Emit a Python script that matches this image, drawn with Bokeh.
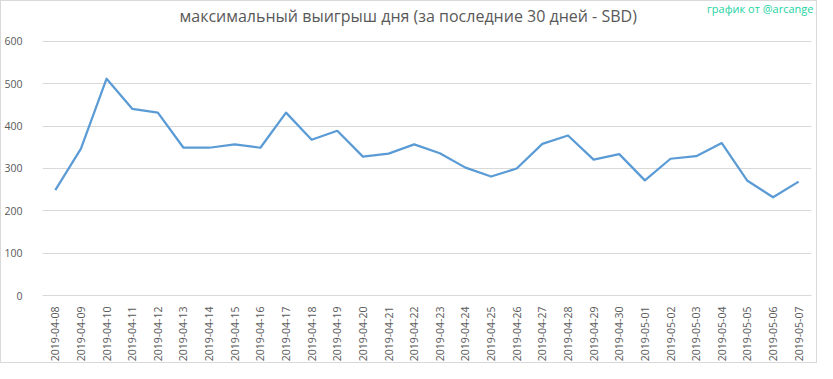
from bokeh.plotting import figure
from bokeh.models import FactorRange, Range1d, Title, FixedTicker
from bokeh.embed import file_html
from bokeh.resources import INLINE

dates = ["2019-04-08", "2019-04-09", "2019-04-10", "2019-04-11", "2019-04-12",
         "2019-04-13", "2019-04-14", "2019-04-15", "2019-04-16", "2019-04-17",
         "2019-04-18", "2019-04-19", "2019-04-20", "2019-04-21", "2019-04-22",
         "2019-04-23", "2019-04-24", "2019-04-25", "2019-04-26", "2019-04-27",
         "2019-04-28", "2019-04-29", "2019-04-30", "2019-05-01", "2019-05-02",
         "2019-05-03", "2019-05-04", "2019-05-05", "2019-05-06", "2019-05-07"]
values = [249, 347, 512, 441, 432, 349, 349, 357, 349, 432,
          368, 389, 328, 335, 357, 336, 302, 281, 300, 358,
          378, 321, 334, 272, 323, 329, 360, 271, 232, 269]
y_ticks = [0, 100, 200, 300, 400, 500, 600]

title_text = "максимальный выигрыш дня (за последние 30 дней - SBD)"
credit_text = "график от @arcange"

# the frame extends a little above the top gridline (600) so that the
# titles can sit close to the canvas top, as in the reference
p = figure(width=817, height=363, x_range=FactorRange(*dates, range_padding=0),
           y_range=Range1d(0, 659), output_backend="svg", toolbar_location=None,
           min_border_left=31, min_border_right=7, min_border_top=0, min_border_bottom=65,
           styles={"border": "1px solid #d9d9d9"})
p.title = None

p.outline_line_color = None
p.background_fill_color = "white"
p.border_fill_color = "white"

p.line(x=dates, y=values, line_color="#5b9bd5", line_width=2.25, line_join="round")

p.yaxis.ticker = FixedTicker(ticks=y_ticks)
p.ygrid.grid_line_color = "#d9d9d9"
p.ygrid.grid_line_width = 1
p.xgrid.grid_line_color = None
for ax in (p.xaxis, p.yaxis):
    ax.axis_line_color = None
    ax.major_tick_line_color = None
    ax.minor_tick_line_color = None
    ax.major_label_text_font = "Open Sans"
    ax.major_label_text_font_size = "10.5px"
    ax.major_label_text_color = "#595959"
p.xaxis.axis_line_color = "#d9d9d9"
p.xaxis.major_label_orientation = 1.5708
p.xaxis.major_label_standoff = 5
p.yaxis.major_label_standoff = 14

main_title = Title(text=title_text, align="left", text_font="Open Sans",
                   text_font_size="16px", text_font_style="normal",
                   text_color="#595959", standoff=-20, offset=137)
credit_title = Title(text=credit_text, align="right", text_font="Open Sans",
                     text_font_size="11px", text_font_style="normal",
                     text_color="#22d3a2", standoff=-6, offset=-2)
p.add_layout(main_title, "above")
p.add_layout(credit_title, "above")

open("out.html", "w").write(file_html(p, INLINE))
